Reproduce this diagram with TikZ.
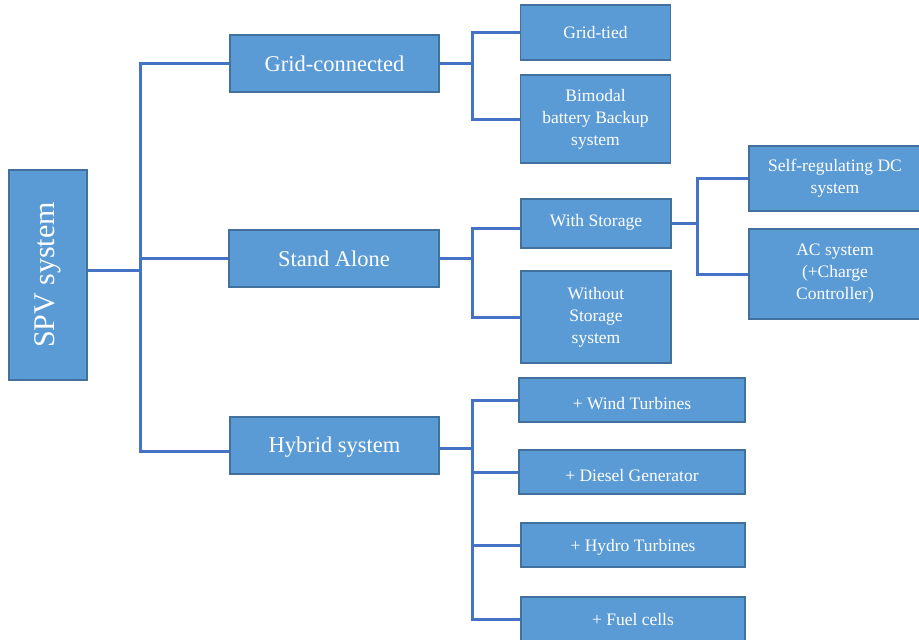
\documentclass[tikz,border=0pt]{standalone}
\usepackage{fontspec}
\setmainfont{Liberation Serif}
\definecolor{boxfill}{HTML}{5B9BD5}
\definecolor{boxline}{HTML}{41719C}
\definecolor{connline}{HTML}{4472C4}
\newcommand{\shiftdown}[2]{\raisebox{#1}[\height][\depth]{#2}}
\begin{document}
\begin{tikzpicture}[x=1pt,y=-1pt,
  box/.style={draw=boxline, line width=1.5pt, fill=boxfill, text=white, inner sep=0pt, align=center},
  big/.style={box, font=\fontsize{22.5}{26}\selectfont},
  small/.style={box, font=\fontsize{17.5}{22}\selectfont},
  conn/.style={draw=connline, line width=3pt, line cap=butt, line join=miter}]
\useasboundingbox (0,0) rectangle (919,640);
% nodes
\node[box, font=\fontsize{30}{34}\selectfont, minimum width=78pt, minimum height=210pt] (spv) at (48,275) {\rotatebox{90}{SPV system}};
\node[big, minimum width=209pt, minimum height=57pt] (grid) at (334.5,63.5) {Grid-connected};
\node[big, minimum width=210pt, minimum height=57pt] (stand) at (334,258.5) {Stand Alone};
\node[big, minimum width=209pt, minimum height=57pt] (hybrid) at (334.5,445.5) {\shiftdown{-2pt}{Hybrid system}};
\node[small, minimum width=150pt, minimum height=55pt] (gtied) at (595.5,32.5) {Grid-tied};
\node[small, minimum width=150pt, minimum height=88pt] (bimodal) at (595.5,119) {Bimodal\\battery Backup\\system};
\node[small, minimum width=150pt, minimum height=49pt] (withs) at (596,223.5) {\shiftdown{1.5pt}{With Storage}};
\node[small, minimum width=150pt, minimum height=92pt] (without) at (596,317) {Without\\Storage\\system};
\node[small, minimum width=172pt, minimum height=65pt] (selfdc) at (835,178.5) {Self-regulating DC\\system};
\node[small, minimum width=172pt, minimum height=90pt] (ac) at (835,274) {AC system\\(+Charge\\Controller)};
\node[small, minimum width=226pt, minimum height=44pt] (wind) at (632,400) {\shiftdown{-4pt}{+ Wind Turbines}};
\node[small, minimum width=226pt, minimum height=44pt] (diesel) at (632,472) {\shiftdown{-4pt}{+ Diesel Generator}};
\node[small, minimum width=224pt, minimum height=44pt] (hydro) at (633,545) {\shiftdown{-2pt}{+ Hydro Turbines}};
\node[small, minimum width=224pt, minimum height=44pt] (fuel) at (633,619) {\shiftdown{-1pt}{+ Fuel cells}};
% junction coordinates
\coordinate (j1) at (140,0);
\coordinate (j2) at (472,0);
\coordinate (j3) at (697,0);
\coordinate (spvout) at ([yshift=5pt]spv.east);
\coordinate (hybin) at ([yshift=-5.5pt]hybrid.west);
\coordinate (hybout) at ([yshift=-2.5pt]hybrid.east);
\coordinate (within) at ([yshift=-4.5pt]withs.west);
% level 1
\draw[conn] (spvout) -- (spvout -| j1);
\draw[conn] (grid.west) -| (j1 |- hybin) -- (hybin);
\draw[conn] (j1 |- stand.west) -- (stand.west);
% grid-connected
\draw[conn] (grid.east) -- (grid.east -| j2);
\draw[conn] (gtied.west) -| (j2 |- bimodal.west) -- (bimodal.west);
% stand alone
\draw[conn] (stand.east) -- (stand.east -| j2);
\draw[conn] (within) -| (j2 |- without.west) -- (without.west);
% with storage
\draw[conn] (withs.east) -- (withs.east -| j3);
\draw[conn] (selfdc.west) -| (j3 |- ac.west) -- (ac.west);
% hybrid
\draw[conn] (hybout) -- (hybout -| j2);
\draw[conn] (wind.west) -| (j2 |- fuel.west) -- (fuel.west);
\draw[conn] (j2 |- diesel.west) -- (diesel.west);
\draw[conn] (j2 |- hydro.west) -- (hydro.west);
\end{tikzpicture}
\end{document}
